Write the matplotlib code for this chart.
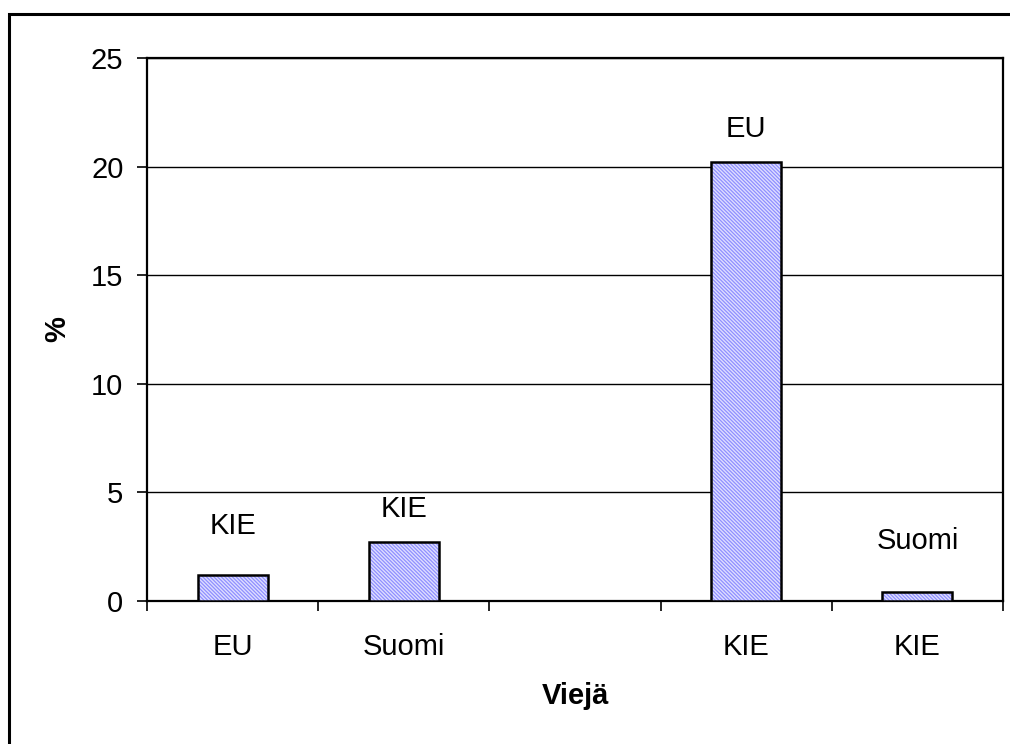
import matplotlib.pyplot as plt
import numpy as np
from matplotlib.patches import Rectangle

# data
categories = ['EU', 'Suomi', '', 'KIE', 'KIE']
values = [1.2, 2.7, np.nan, 20.2, 0.4]
bar_labels = ['KIE', 'KIE', '', 'EU', 'Suomi']
yticks = [0, 5, 10, 15, 20, 25]

plt.rcParams['font.family'] = ['Liberation Sans', 'DejaVu Sans']
plt.rcParams['hatch.linewidth'] = 0.9

fig = plt.figure(figsize=(10.1, 7.44), dpi=100)
ax = fig.add_axes([147 / 1010, 1 - 601 / 744, 856 / 1010, 543 / 744])

# outer chart border (runs off the right/bottom of the picture)
fig.patches.append(Rectangle((9 / 1010, -0.1), 1.2, 1 - 14 / 744 + 0.1,
                             transform=fig.transFigure, fill=False,
                             edgecolor='black', linewidth=2.2, clip_on=False))

x = np.arange(len(categories))
w = 0.41

# hatched fill, then black outline
ax.bar(x, values, w, color='#dedeff', edgecolor='#8f8fff', hatch='\\' * 9,
       linewidth=0, zorder=3)
ax.bar(x, values, w, fill=False, edgecolor='black', linewidth=1.8, zorder=4)

# labels above bars (offsets in points, as placed in the original)
offsets = [25, 14, 0, 14, 27]
for xi, v, lab, off in zip(x, values, bar_labels, offsets):
    if lab:
        ax.annotate(lab, (xi, v), xytext=(0, off), textcoords='offset points',
                    ha='center', va='bottom', fontsize=21)

ax.set_xlim(-0.5, len(categories) - 0.5)
ax.set_ylim(0, 25)
ax.set_yticks(yticks)
ax.yaxis.grid(True, color='black', linewidth=1.0, zorder=0)
ax.set_axisbelow(True)

ax.set_xticks(x)
ax.set_xticklabels(categories)
ax.set_xticks(np.arange(len(categories) + 1) - 0.5, minor=True)
ax.tick_params(axis='x', which='major', length=0, pad=23, labelsize=21)
ax.tick_params(axis='x', which='minor', length=7, width=1.2, direction='out')
ax.tick_params(axis='y', length=7, width=1.2, pad=10, labelsize=21)

for s in ax.spines.values():
    s.set_linewidth(1.6)
    s.set_color('black')

ax.set_ylabel('%', fontsize=21, fontweight='bold', labelpad=14)
ax.set_xlabel('Viejä', fontsize=21, fontweight='bold', labelpad=15)

fig.savefig('out.png', dpi=100)
